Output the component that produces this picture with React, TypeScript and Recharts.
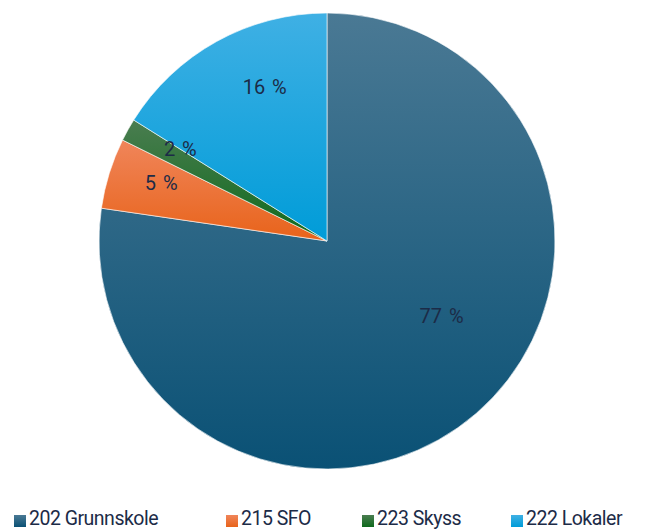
import React from 'react';
import { PieChart, Pie, Cell, Legend } from 'recharts';

const categories = ['202 Grunnskole', '215 SFO', '223 Skyss', '222 Lokaler'];
const values = [77.3, 5.0, 1.6, 16.1];

const gradients = [
    { top: '#4a7994', bottom: '#0a5175' },
    { top: '#f0855a', bottom: '#e8631a' },
    { top: '#4a7d50', bottom: '#0f6a1c' },
    { top: '#3fb0e4', bottom: '#009cd8' },
];

// label placement (fraction of radius, angle nudge in degrees)
const labelRadius = [0.6, 0.77, 0.76, 0.73];
const labelNudge = [16, -2, -3, -7];
const legendWidths = [212, 136, 149, 143];

const data = categories.map((name, i) => ({ name, value: values[i] }));

const RADIAN = Math.PI / 180;
const FONT = "Roboto, 'Open Sans', sans-serif";

const renderLabel = (props: any) => {
    const { cx, cy, midAngle, outerRadius, percent, index } = props;
    const r = outerRadius * labelRadius[index];
    const a = (midAngle + labelNudge[index]) * RADIAN;
    const x = cx + r * Math.cos(-a);
    const y = cy + r * Math.sin(-a);
    return (
        <text x={x} y={y} fill="#1c2b47" fontSize={20} fontFamily={FONT}
            textAnchor="middle" dominantBaseline="central" style={{ wordSpacing: 2 }}>
            {`${Math.round(percent * 100)} %`}
        </text>
    );
};

const renderLegend = () => (
    <div style={{ display: 'flex', fontFamily: FONT, fontSize: 19.5, color: '#1c2b47', paddingLeft: 14, lineHeight: '22px' }}>
        {categories.map((c, i) => (
            <div key={c} style={{ display: 'flex', alignItems: 'center', width: legendWidths[i], flex: 'none' }}>
                <span style={{
                    display: 'inline-block', width: 12, height: 12, marginRight: 3, marginTop: 3,
                    background: `linear-gradient(${gradients[i].top}, ${gradients[i].bottom})`,
                }} />
                <span style={{ letterSpacing: -0.5, whiteSpace: 'nowrap' }}>{c}</span>
            </div>
        ))}
    </div>
);

export default function App() {
    return (
        <div style={{ position: 'absolute', left: 0, top: 0, width: 654, height: 529, background: '#fff', overflow: 'hidden' }}>
            <PieChart width={654} height={529} margin={{ top: 0, right: 0, bottom: 0, left: 0 }}>
                <defs>
                    {gradients.map((g, i) => (
                        <linearGradient key={i} id={`grad${i}`} x1="0" y1="0" x2="0" y2="1">
                            <stop offset="0%" stopColor={g.top} />
                            <stop offset="100%" stopColor={g.bottom} />
                        </linearGradient>
                    ))}
                </defs>
                <Pie
                    data={data}
                    dataKey="value"
                    nameKey="name"
                    cx={327}
                    cy={241}
                    outerRadius={228}
                    startAngle={90}
                    endAngle={-270}
                    stroke="#ffffff"
                    strokeWidth={0.6}
                    label={renderLabel}
                    labelLine={false}
                    isAnimationActive={false}
                >
                    {data.map((d, i) => (
                        <Cell key={d.name} fill={`url(#grad${i})`} />
                    ))}
                </Pie>
                <Legend
                    content={renderLegend}
                    layout="horizontal"
                    verticalAlign="bottom"
                    wrapperStyle={{ top: 508, bottom: 'auto', left: 0, width: 654 }}
                />
            </PieChart>
        </div>
    );
}
